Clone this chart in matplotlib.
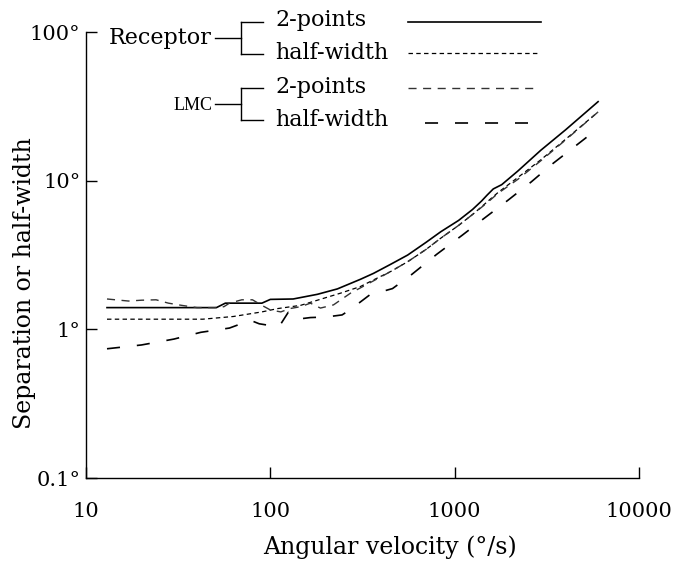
import numpy as np
import matplotlib
matplotlib.use("Agg")
import matplotlib.pyplot as plt
from matplotlib.lines import Line2D

plt.rcParams['font.family'] = ['DejaVu Serif']
plt.rcParams['lines.scale_dashes'] = False

# data (angular velocity in deg/s, width in deg)
x_rec2 = [13, 51, 57, 90, 100, 133, 180, 231, 308, 363, 450, 556, 700, 840,
          1050, 1250, 1400, 1500, 1620, 1800, 2200, 2930, 4000, 6000]
y_rec2 = [1.40, 1.40, 1.50, 1.50, 1.59, 1.60, 1.72, 1.87, 2.17, 2.38, 2.74, 3.16,
          3.85, 4.53, 5.4, 6.4, 7.3, 8.0, 8.8, 9.4, 11.6, 16.0, 22.0, 34.0]

x_rechw = [13, 43, 63, 90, 110, 146, 180, 240, 308, 363, 450, 556, 700, 840,
           1050, 1267, 1500, 1714, 2200, 2930, 4000, 6000]
y_rechw = [1.17, 1.17, 1.22, 1.31, 1.38, 1.45, 1.57, 1.75, 1.94, 2.15, 2.45, 2.85,
           3.45, 4.1, 5.0, 6.0, 7.2, 8.3, 10.5, 13.8, 19.0, 29.0]

x_lmc2 = [13, 17, 20, 24, 28, 33, 40, 50, 56, 60, 70, 80, 90, 100, 114, 128,
          146, 165, 187, 220, 272, 308, 363, 450, 556, 700, 840, 1050, 1267,
          1500, 1714, 2200, 2930, 4000, 6000]
y_lmc2 = [1.60, 1.55, 1.57, 1.58, 1.50, 1.45, 1.40, 1.40, 1.42, 1.50, 1.58, 1.58,
          1.45, 1.35, 1.31, 1.38, 1.42, 1.50, 1.39, 1.46, 1.75, 1.90, 2.12, 2.45,
          2.85, 3.45, 4.1, 5.0, 6.0, 7.1, 8.2, 10.2, 13.6, 18.8, 29.0]

x_lmchw = [13, 20, 30, 42, 60, 78, 87, 100, 112, 125, 140, 165, 200, 245, 270,
           345, 460, 575, 800, 1100, 1450, 1950, 2600, 3400, 4600, 6000]
y_lmchw = [0.74, 0.785, 0.86, 0.955, 1.02, 1.15, 1.09, 1.06, 1.05, 1.30, 1.17,
           1.20, 1.21, 1.25, 1.35, 1.70, 1.88, 2.3, 3.2, 4.3, 5.6, 7.4, 9.8, 13.0,
           17.4, 22.5]

x_ticks = [10, 100, 1000, 10000]
x_ticklabels = ['10', '100', '1000', '10000']
y_ticks = [0.1, 1, 10, 100]
y_ticklabels = ['0.1°', '1°', '10°', '100°']

# line styles
st_rec2 = dict(color='black', lw=1.2, ls='-')
st_rechw = dict(color='black', lw=0.9, ls=(0, (3.2, 2.4)))
st_lmc2 = dict(color='#333333', lw=1.0, ls=(0, (5.8, 4.7)))
st_lmchw = dict(color='black', lw=1.2, ls=(0, (9.4, 12.2)))

W, H = 678, 566
fig = plt.figure(figsize=(W / 100, H / 100), dpi=100)
ax = fig.add_axes([86 / W, 1 - 478 / H, 553 / W, 446 / H])

ax.plot(x_rec2, y_rec2, **st_rec2)
ax.plot(x_rechw, y_rechw, **st_rechw)
ax.plot(x_lmc2, y_lmc2, **st_lmc2)
ax.plot(x_lmchw, y_lmchw, **st_lmchw)

ax.set_xscale('log')
ax.set_yscale('log')
ax.set_xlim(10, 10000)
ax.set_ylim(0.1, 100)
ax.set_xticks(x_ticks)
ax.set_xticklabels(x_ticklabels)
ax.set_yticks(y_ticks)
ax.set_yticklabels(y_ticklabels)
ax.minorticks_off()
ax.tick_params(axis='both', direction='in', length=8, width=1, labelsize=15)
ax.tick_params(axis='x', pad=17)
ax.tick_params(axis='y', pad=4)
for s in ['top', 'right']:
    ax.spines[s].set_visible(False)
for s in ['left', 'bottom']:
    ax.spines[s].set_linewidth(1.0)

ax.set_xlabel('Angular velocity (°/s)', fontsize=17)
ax.set_ylabel('Separation or half-width', fontsize=17)
ax.xaxis.set_label_coords((390 - 86) / 553, -(535 - 478) / 446)
ax.yaxis.set_label_coords((36 - 86) / 553, (478 - 283) / 446)


# legend drawn in figure pixel positions
def fx(px):
    return px / W


def fy(py):
    return 1 - py / H


def seg(x0, y0, x1, y1, **kw):
    style = dict(color='black', lw=1.0)
    style.update(kw)
    fig.add_artist(Line2D([fx(x0), fx(x1)], [fy(y0), fy(y1)],
                          transform=fig.transFigure, **style))


def bracket(y_mid, y_top, y_bot):
    seg(215, y_mid, 241, y_mid)
    seg(241, y_top, 241, y_bot)
    seg(241, y_top, 263, y_top)
    seg(241, y_bot, 263, y_bot)


fig.text(fx(212), fy(38), 'Receptor', fontsize=16, ha='right', va='center')
bracket(38, 22, 54)
fig.text(fx(275), fy(20), '2-points', fontsize=16, ha='left', va='center')
fig.text(fx(275), fy(53), 'half-width', fontsize=16, ha='left', va='center')
seg(408, 22, 541, 22, **st_rec2)
seg(408, 53, 540, 53, **st_rechw)

fig.text(fx(213), fy(105), 'LMC', fontsize=13, ha='right', va='center',
         family='Liberation Serif')
bracket(104, 88, 120)
fig.text(fx(275), fy(87), '2-points', fontsize=16, ha='left', va='center')
fig.text(fx(275), fy(120), 'half-width', fontsize=16, ha='left', va='center')
seg(408, 88, 537, 88, **st_lmc2)
seg(425, 123, 528, 123, **st_lmchw)

fig.savefig('out.png', dpi=100)
